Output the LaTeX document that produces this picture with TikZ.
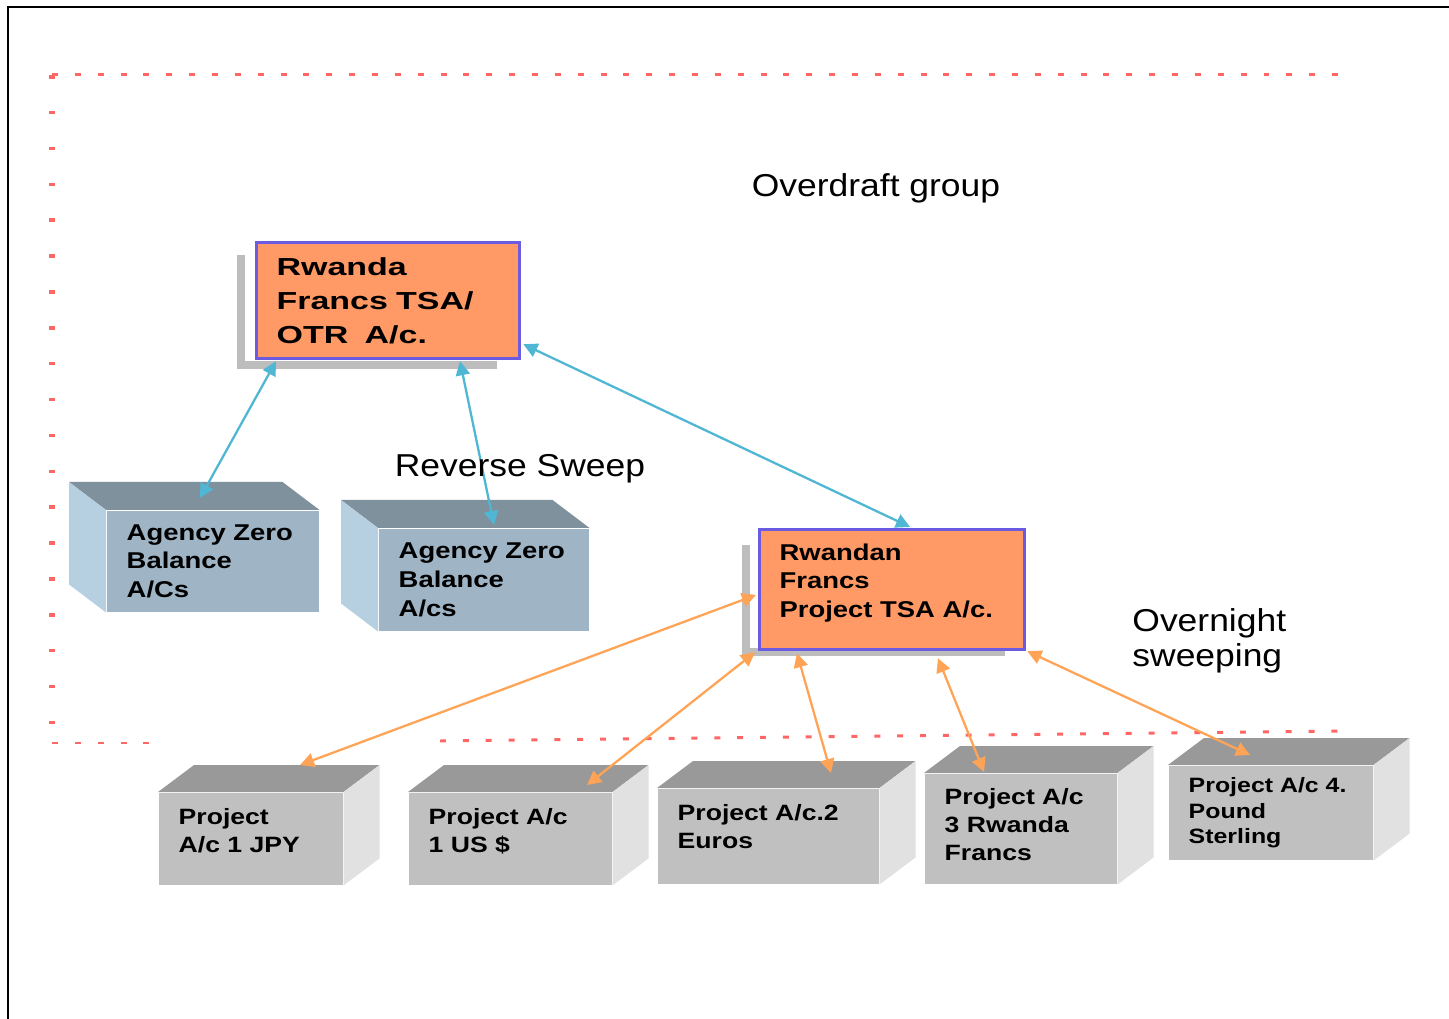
\documentclass[tikz,border=0pt]{standalone}
\usepackage{fontspec}
\setmainfont{Liberation Sans}
\newfontfamily\boxfont[FakeStretch=1.2]{Liberation Sans}
\newfontfamily\otrfont[FakeStretch=1.38]{Liberation Sans}
\newfontfamily\lblfont[FakeStretch=1.12]{Liberation Sans}
\usetikzlibrary{arrows.meta}

\definecolor{tsaorange}{HTML}{FF9966}
\definecolor{tsaborder}{HTML}{6B5BE0}
\definecolor{shadowgrey}{HTML}{BDBDBD}
\definecolor{agyfront}{HTML}{9FB5C6}
\definecolor{agytop}{HTML}{7F919D}
\definecolor{agyside}{HTML}{B6D0E2}
\definecolor{prjfront}{HTML}{C0C0C0}
\definecolor{prjtop}{HTML}{999999}
\definecolor{prjside}{HTML}{E1E1E1}
\definecolor{sweepblue}{HTML}{4FB6D3}
\definecolor{sweeporange}{HTML}{FFA356}
\definecolor{groupred}{HTML}{FF6666}

% pushes the text of a box up by half the given length
\newcommand{\boxlift}[1]{\rule[-#1]{0pt}{0pt}}

\begin{document}
\begin{tikzpicture}[x=0.01cm, y=-0.01cm,
    tsabox/.style={draw=tsaborder, line width=0.9pt, fill=tsaorange, anchor=north west, align=left, inner xsep=0.2cm},
    agybox/.style={fill=agyfront, anchor=north west, align=left, inner xsep=0.2cm, font=\boxfont\bfseries\fontsize{6.5pt}{8.2pt}\selectfont},
    prjbox/.style={fill=prjfront, anchor=north west, align=left, inner xsep=0.2cm, font=\boxfont\bfseries\fontsize{6.3pt}{7.9pt}\selectfont},
    lbl/.style={font=\lblfont\fontsize{9pt}{10pt}\selectfont},
    shadowline/.style={shadowgrey, line width=2pt},
    bluearrow/.style={{Triangle[length=4pt,width=4pt]}-{Triangle[length=4pt,width=4pt]}, sweepblue, line width=0.65pt},
    orangearrow/.style={{Triangle[length=4pt,width=4pt]}-{Triangle[length=4pt,width=4pt]}, sweeporange, line width=0.65pt},
    groupline/.style={groupred, line width=0.85pt, dash pattern=on 1.7pt off 4.8pt}
]
\useasboundingbox (0,0) rectangle (1449,1019);

% frame
\draw[line width=0.6pt] (8,1019) -- (8,7) -- (1449,7);

% overdraft group outline
\draw[groupline] (52,75) -- (1338,75);
\draw[groupred, line width=1.7pt, dash pattern=on 1pt off 9.2pt] (52,75) -- (52,743);
\draw[groupline] (52,743) -- (155,743);
\draw[groupline] (440,741) -- (1338,731);

% shadows behind the TSA boxes
\draw[shadowline] (241,255) |- (497,365);
\draw[shadowline] (746,545) |- (1005,652);

% TSA accounts
\node[tsabox, minimum height=1.16cm, text width=2.23cm, font=\otrfont\bfseries\fontsize{7pt}{9.7pt}\selectfont]
    (otr) at (255,241) {Rwanda\\Francs TSA/\\OTR~~A/c.};
\node[tsabox, minimum height=1.2cm, text width=2.25cm, font=\boxfont\bfseries\fontsize{6.5pt}{8pt}\selectfont]
    (ptsa) at (758,528) {Rwandan\\Francs\\Project TSA A/c.\boxlift{0.18cm}};

% agency zero balance accounts
\node[agybox, minimum height=1.01cm, text width=1.72cm] (agyA) at (106,510) {Agency Zero\\Balance\\A/Cs};
\node[agybox, minimum height=1.02cm, text width=1.70cm] (agyB) at (378,528) {Agency Zero\\Balance\\A/cs};
\foreach \b in {agyA,agyB} {
  \fill[agytop] (\b.north west) -- ++(-37,-28) -- ([shift={(-37,-28)}]\b.north east) -- (\b.north east) -- cycle;
  \fill[agyside] (\b.north west) -- ++(-37,-28) -- ([shift={(-37,-28)}]\b.south west) -- (\b.south west) -- cycle;
}

% project accounts
\node[prjbox, minimum height=0.92cm, text width=1.44cm] (jpy) at (158,792) {Project\\A/c 1 JPY\boxlift{0.16cm}};
\node[prjbox, minimum height=0.92cm, text width=1.63cm] (usd) at (408,792) {Project A/c\\1 US \$\boxlift{0.16cm}};
\node[prjbox, minimum height=0.95cm, text width=1.81cm] (eur) at (657,788) {Project A/c.2\\Euros\boxlift{0.2cm}};
\node[prjbox, minimum height=1.1cm, text width=1.52cm] (rwf) at (924,773) {Project A/c\\3 Rwanda\\Francs\boxlift{0.08cm}};
\node[prjbox, minimum height=0.92cm, text width=1.64cm, font=\boxfont\bfseries\fontsize{5.9pt}{7.3pt}\selectfont]
    (gbp) at (1168,765) {Project A/c 4.\\Pound\\Sterling};
\foreach \b in {jpy,usd,eur,rwf,gbp} {
  \fill[prjtop] (\b.north west) -- ++(36,-27) -- ([shift={(36,-27)}]\b.north east) -- (\b.north east) -- cycle;
  \fill[prjside] (\b.north east) -- ++(36,-27) -- ([shift={(36,-27)}]\b.south east) -- (\b.south east) -- cycle;
}

% reverse sweep
\draw[bluearrow] ([shift={(21,1)}]otr.south west) -- ([shift={(94,-12)}]agyA.north west);
\draw[bluearrow] ([shift={(205,1)}]otr.south west) -- ([shift={(116,-3)}]agyB.north west);
\draw[bluearrow] ([shift={(2,-16)}]otr.south east) -- ([shift={(152,-1)}]ptsa.north west);

% overnight sweeping
\draw[orangearrow] ([shift={(-2,67)}]ptsa.north west) -- ([shift={(142,-27)}]jpy.north west);
\draw[orangearrow] ([shift={(-3,1)}]ptsa.south west) -- ([shift={(179,-7)}]usd.north west);
\draw[orangearrow] ([shift={(39,2)}]ptsa.south west) -- ([shift={(174,-15)}]eur.north west);
\draw[orangearrow] ([shift={(180,7)}]ptsa.south west) -- ([shift={(60,-1)}]rwf.north west);
\draw[orangearrow] ([shift={(1,0)}]ptsa.south east) -- ([shift={(82,-10)}]gbp.north west);

% labels
\node[lbl] (odg) at (876,188) {Overdraft group};
\node[lbl] (rsw) at (520,469) {Reverse Sweep};
\node[lbl, anchor=west, align=left] (ons) at (1120,641) {Overnight\\sweeping};

\end{tikzpicture}
\end{document}
